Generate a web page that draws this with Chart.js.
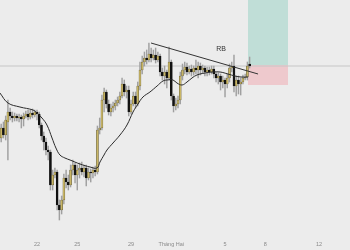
<!DOCTYPE html>
<html>
<head>
<meta charset="utf-8">
<script src="https://cdn.jsdelivr.net/npm/chart.js@4.4.1/dist/chart.umd.min.js"></script>
<style>
html, body { margin: 0; padding: 0; background: #ececec; }
canvas { display: block; }
</style>
</head>
<body>
<canvas id="chart" width="350" height="250"></canvas>
<script>
// 4h candles, day 0 = 22 Jan 00:00
const FIRST_CANDLE_DAY = -16 / 6;
const CANDLE_STEP = 1 / 6;

const OPEN  = [112,122,115,128,138,134,132,134,132,133,131,134,136,133,137,135,138,136,125,114,
               108,100, 98, 65, 75, 78, 45, 40, 50, 72, 68, 65, 80, 85, 75, 80, 82, 78, 82, 72,
                78, 77, 80, 78,120,122,150,158,146,138,142,144,147,150,154,166,158,160,138,146,
               154,146,164,180,188,192,190,196,192,195,190,194,178,174,178,172,188,154,144,146,
               150,174,180,183,178,181,178,182,180,184,180,182,178,180,178,181,176,172,174,168,
               170,166,172,182,184,164,170,166,168,172,173,186];
const HIGH  = [126,128,134,150,142,138,137,136,136,135,137,139,140,140,141,140,140,138,127,118,
               112,104,100, 80, 82, 80, 50, 54, 76, 80, 75, 85, 90, 87, 85, 87, 88, 85, 85, 82,
                81, 83, 84,124,132,155,162,160,150,146,148,150,153,158,172,170,164,164,150,158,
               158,168,188,194,198,200,207,202,200,202,198,196,182,184,180,203,190,156,152,154,
               178,186,188,187,184,185,184,190,188,187,185,184,183,183,184,184,178,177,176,174,
               172,176,186,188,195,174,174,172,175,176,188,193];
const LOW   = [108,112,110, 90,130,128,129,129,128,122,124,132,130,131,132,133,130,122,110,100,
                95, 90, 60, 60, 72, 40, 30, 36, 46, 62, 60, 63, 75, 67, 60, 72, 75, 73, 64, 70,
                68, 72, 74, 76,116,120,138,142,135,134,138,140,144,146,152,154,152,134,136,144,
               142,144,160,176,184,186,188,188,190,187,188,174,170,166,162,170,150,138,140,142,
               146,170,176,175,176,174,175,176,172,175,177,174,174,175,176,172,168,166,160,162,
               153,162,168,178,158,154,156,155,166,170,170,182];
const CLOSE = [122,115,130,138,134,132,134,132,133,131,134,136,133,137,135,138,136,125,114,108,
               100, 98, 65, 75, 78, 45, 40, 50, 72, 68, 65, 80, 85, 75, 80, 82, 78, 82, 72, 78,
                77, 80, 78,120,122,150,158,146,138,142,144,147,150,154,166,158,160,138,146,154,
               146,164,180,188,192,190,196,192,195,190,194,178,174,178,172,188,154,144,146,150,
               174,180,183,178,181,178,182,180,184,180,182,178,180,178,181,176,172,174,168,170,
               166,172,182,184,164,170,166,168,172,173,184,184];

// moving average line
const MA_DAYS   = [-2.76,-2.16,-1.27,-0.30,0.00,0.37,0.74,1.12,1.41,1.71,2.08,2.46,3.20,3.95,4.47,4.69,4.99,5.21,5.66,6.18,
                   6.70,7.15,7.52,7.89,8.41,8.94,9.38,9.68,10.13,10.42,10.80,11.17,11.54,11.91,12.51,13.10,13.63,14.22,14.74,15.19,15.71];
const MA_VALUES = [157,147,143,140,137,132,125,112,102,95,92,90,86,83,82,88,95,100,107,115,
                   125,138,146,153,158,164,169,170,170,167,165,168,172,175,177,178,178,176,174,173,173];

const TREND_DAYS = [8.49, 16.46];
const TREND_VALUES = [207, 176];

const LAST_PRICE = 184;
const BOX_DAYS = [15.71, 18.69];
const ENTRY = 185, TARGET = 250, STOP = 165;

const RB_TEXT = 'RB', RB_DAY = 13.7, RB_PRICE = 201;

const TICK_DAYS = [0, 3, 7, 10, 14, 17, 21];
const TICK_LABELS = ['22', '25', '29', 'Tháng Hai', '5', '8', '12'];

const X_MIN = -2.755, X_MAX = 23.306;

const UP_COLOR = '#c9b666', UP_BORDER = '#5f5833';
const DOWN_COLOR = '#111111';
const WICK_COLOR = '#a0a0a0';

const days = CLOSE.map((c, i) => FIRST_CANDLE_DAY + i * CANDLE_STEP);
const isUp = CLOSE.map((c, i) => c >= OPEN[i]);

const bodies = days.map((d, i) => ({ x: d, y: [OPEN[i], CLOSE[i]] }));
const wicks = days.map((d, i) => ({ x: d, y: [LOW[i], HIGH[i]] }));

const rbLabel = {
    id: 'rbLabel',
    afterDatasetsDraw(chart) {
        const { ctx, scales: { x, y } } = chart;
        ctx.save();
        ctx.font = '7px "Liberation Sans"';
        ctx.fillStyle = '#333';
        ctx.textAlign = 'center';
        ctx.textBaseline = 'middle';
        ctx.fillText(RB_TEXT, x.getPixelForValue(RB_DAY), y.getPixelForValue(RB_PRICE));
        ctx.restore();
    }
};

const ctx = document.getElementById('chart').getContext('2d');
new Chart(ctx, {
    type: 'bar',
    data: {
        datasets: [
            {
                type: 'line', order: 10,
                data: BOX_DAYS.map(d => ({ x: d, y: TARGET })),
                borderWidth: 0, pointRadius: 0,
                backgroundColor: 'rgba(178,218,208,0.75)',
                fill: { value: ENTRY }
            },
            {
                type: 'line', order: 10,
                data: BOX_DAYS.map(d => ({ x: d, y: ENTRY })),
                borderWidth: 0, pointRadius: 0,
                backgroundColor: 'rgba(240,186,192,0.7)',
                fill: { value: STOP }
            },
            {
                type: 'line', order: 9,
                data: [{ x: X_MIN, y: LAST_PRICE }, { x: X_MAX, y: LAST_PRICE }],
                borderColor: '#c6c6c6', borderWidth: 1, pointRadius: 0
            },
            {
                order: 6, grouped: false,
                data: wicks,
                backgroundColor: WICK_COLOR,
                barThickness: 0.8
            },
            {
                order: 5, grouped: false,
                data: bodies,
                backgroundColor: isUp.map(u => u ? UP_COLOR : DOWN_COLOR),
                borderColor: isUp.map(u => u ? UP_BORDER : DOWN_COLOR),
                borderWidth: 0.5,
                borderSkipped: false,
                minBarLength: 1,
                barThickness: 2
            },
            {
                type: 'line', order: 3,
                data: MA_DAYS.map((d, i) => ({ x: d, y: MA_VALUES[i] })),
                borderColor: '#2a2a2a', borderWidth: 1, pointRadius: 0, tension: 0.4
            },
            {
                type: 'line', order: 2,
                data: TREND_DAYS.map((d, i) => ({ x: d, y: TREND_VALUES[i] })),
                borderColor: '#333', borderWidth: 1, pointRadius: 0
            }
        ]
    },
    options: {
        responsive: false,
        animation: false,
        devicePixelRatio: 1,
        layout: { padding: 0 },
        plugins: { legend: { display: false }, tooltip: { enabled: false } },
        scales: {
            x: {
                type: 'linear', min: X_MIN, max: X_MAX, offset: false,
                grid: { display: false, drawTicks: false },
                border: { display: false },
                afterBuildTicks: axis => { axis.ticks = TICK_DAYS.map(v => ({ value: v })); },
                afterFit: axis => { axis.height = 14; },
                ticks: {
                    autoSkip: false, maxRotation: 0, padding: 5,
                    color: '#8a8a8a',
                    font: { size: 5.5, family: 'Liberation Sans' },
                    callback: (v, i) => TICK_LABELS[i]
                }
            },
            y: {
                display: false, min: 14, max: 250
            }
        }
    },
    plugins: [rbLabel]
});
</script>
</body>
</html>
